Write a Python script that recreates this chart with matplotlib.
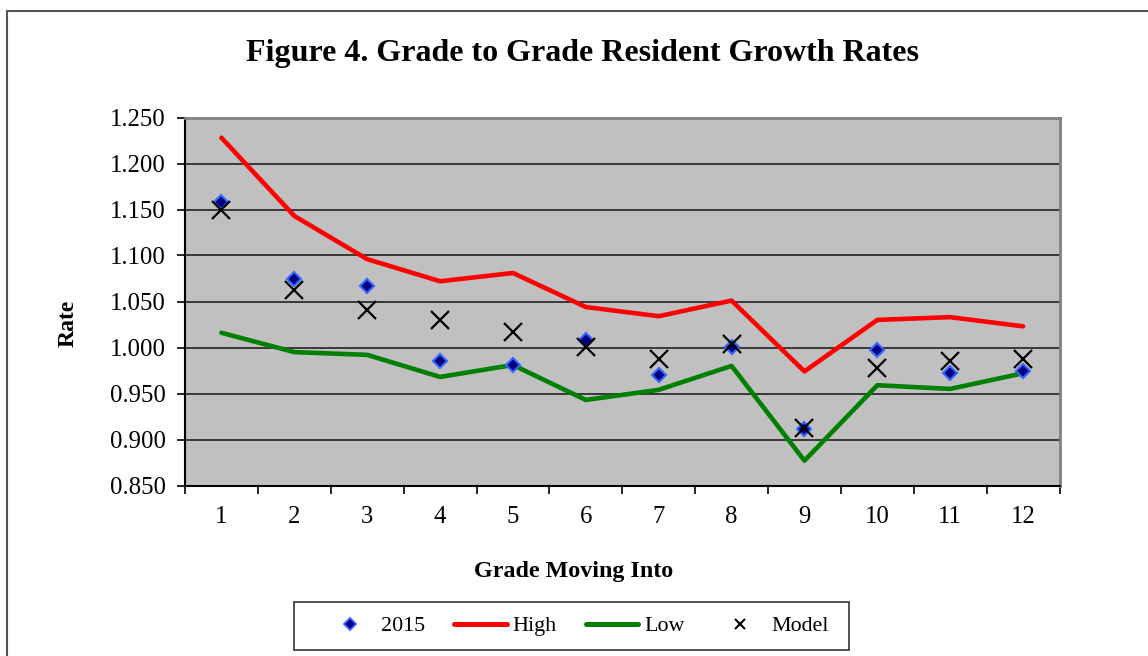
import numpy as np
import matplotlib.pyplot as plt
from matplotlib.lines import Line2D
from matplotlib.patches import Rectangle
from matplotlib.ticker import FixedLocator, FormatStrFormatter

plt.rcParams['font.family'] = ['Liberation Serif', 'DejaVu Serif']

# data
grades = [1, 2, 3, 4, 5, 6, 7, 8, 9, 10, 11, 12]
rate_2015 = [1.158, 1.075, 1.067, 0.985, 0.981, 1.008, 0.970, 1.001, 0.911, 0.997, 0.972, 0.975]
rate_high = [1.228, 1.143, 1.096, 1.072, 1.081, 1.044, 1.034, 1.051, 0.974, 1.030, 1.033, 1.023]
rate_low = [1.016, 0.995, 0.992, 0.968, 0.981, 0.943, 0.954, 0.980, 0.877, 0.959, 0.955, 0.972]
rate_model = [1.150, 1.062, 1.041, 1.030, 1.017, 1.001, 0.988, 1.004, 0.912, 0.978, 0.985, 0.988]
y_ticks = [0.85, 0.90, 0.95, 1.00, 1.05, 1.10, 1.15, 1.20, 1.25]

W, H = 1148, 656
fig = plt.figure(figsize=(W / 100, H / 100), dpi=100)
ax = fig.add_axes([185 / W, 1 - 485.5 / H, (1059.5 - 185) / W, (485.5 - 117.5) / H])

# outer chart border (runs off right and bottom edges)
fig.patches.append(Rectangle((7 / W, -0.05), 1.1, 1 - 10.5 / H + 0.05,
                             transform=fig.transFigure, fill=False,
                             edgecolor='#555555', linewidth=1.5))

ax.set_facecolor('#C0C0C0')
for yv in y_ticks[1:-1]:
    ax.axhline(yv, color='#222222', linewidth=1.2, zorder=1)

ax.plot(grades, rate_high, color='#FF0000', linewidth=3.3, solid_capstyle='round', zorder=3)
ax.plot(grades, rate_low, color='#008000', linewidth=3.3, solid_capstyle='round', zorder=3)
ax.plot(grades, rate_2015, linestyle='none', marker='D', markersize=7.5,
        markerfacecolor='#000080', markeredgecolor='#3366FF', markeredgewidth=1.5, zorder=4)
ax.plot(grades, rate_model, linestyle='none', marker='x', markersize=13.5,
        color='black', markeredgewidth=1.6, zorder=5)

ax.set_xlim(0.5, 12.5)
ax.set_ylim(0.85, 1.25)
ax.yaxis.set_major_locator(FixedLocator(y_ticks))
ax.yaxis.set_major_formatter(FormatStrFormatter('%.3f'))
ax.set_xticks(grades)
ax.xaxis.set_minor_locator(FixedLocator(np.arange(0.5, 13, 1.0)))
ax.tick_params(axis='x', which='major', length=0, pad=15, labelsize=17.8)
ax.tick_params(axis='x', which='minor', length=6, width=1.2, direction='out')
ax.tick_params(axis='y', which='major', length=6, width=1.2, direction='out', pad=8, labelsize=17.8)

for side in ['top', 'right']:
    ax.spines[side].set_color('#808080')
    ax.spines[side].set_linewidth(2)
for side in ['left', 'bottom']:
    ax.spines[side].set_color('black')
    ax.spines[side].set_linewidth(1.5)

ax.set_ylabel('Rate', fontsize=17, fontweight='bold', va='center')
ax.yaxis.set_label_coords(-(185 - 68) / 874.5, 1 - (323 - 117.5) / 368)
ax.set_xlabel('Grade Moving Into', fontsize=17.3, fontweight='bold', va='center')
ax.xaxis.set_label_coords((573.5 - 185) / 874.5, -(572 - 485.5) / 368)
fig.text(582.5 / W, 1 - 53 / H, 'Figure 4. Grade to Grade Resident Growth Rates',
         ha='center', va='center', fontsize=23, fontweight='bold')

# legend box drawn separately, legend entries centred inside it
fig.patches.append(Rectangle((293.6 / W, 1 - 650 / H), (848.7 - 293.6) / W, 48 / H,
                             transform=fig.transFigure, facecolor='white',
                             edgecolor='#333333', linewidth=1.2, zorder=0))
legend_handles = [
    Line2D([], [], linestyle='none', marker='D', markersize=6,
           markerfacecolor='#000080', markeredgecolor='#3366FF', markeredgewidth=1.3),
    Line2D([], [], color='#FF0000', linewidth=3.6, solid_capstyle='round'),
    Line2D([], [], color='#008000', linewidth=3.6, solid_capstyle='round'),
    Line2D([], [], linestyle='none', marker='x', markersize=7, color='black', markeredgewidth=1.5),
]
leg = fig.legend(legend_handles, ['2015', 'High', 'Low', 'Model'],
                 loc='center', bbox_to_anchor=(576 / W, 1 - 626 / H),
                 ncol=4, fontsize=15.8, frameon=False,
                 handlelength=2.4, handletextpad=0.25, columnspacing=1.32,
                 borderaxespad=0, borderpad=0)

fig.savefig('out.png', dpi=100)
